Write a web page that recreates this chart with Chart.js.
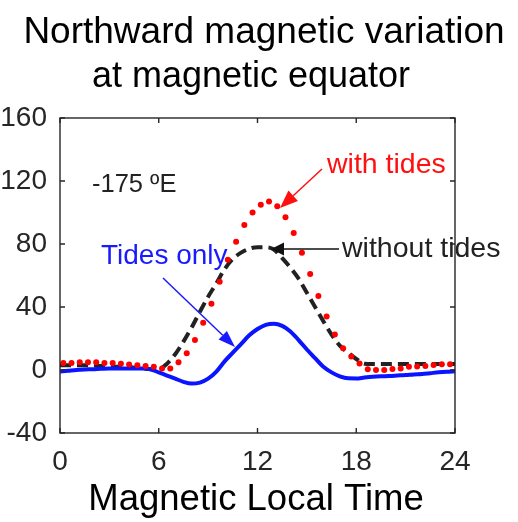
<!DOCTYPE html>
<html>
<head>
<meta charset="utf-8">
<script src="https://cdn.jsdelivr.net/npm/chart.js@4"></script>
<style>
  html, body { margin: 0; padding: 0; background: #fff; }
  canvas { display: block; }
</style>
</head>
<body>
<canvas id="chart" width="518" height="522"></canvas>
<script>
// hours for the red dotted series (with tides)
const hoursDots = [0.2, 0.7, 1.2, 1.7, 2.2, 2.7, 3.2, 3.7, 4.2, 4.7, 5.2, 5.7,
  6.2, 6.7, 7.2, 7.7, 8.2, 8.7, 9.2, 9.7, 10.2, 10.7, 11.2, 11.7,
  12.2, 12.7, 13.2, 13.7, 14.2, 14.7, 15.2, 15.7, 16.2, 16.7, 17.2, 17.7,
  18.2, 18.7, 19.2, 19.7, 20.2, 20.7, 21.2, 21.7, 22.2, 22.7, 23.2, 23.7];
const withTides = [4.5, 4.5, 5, 5, 5, 4.5, 4.5, 4, 3.5, 3, 2.5, 2,
  1, 1, 5, 10.6, 19, 30, 42, 56, 70, 81.5, 92, 100,
  105, 107, 104, 97, 87, 74.5, 61, 47, 34, 22.5, 13.8, 8.5,
  4.2, 0.5, 0, 0, 0.6, 1, 2, 2.3, 2.6, 3.2, 3.6, 3.6];

// half-hour grid for the two line series
const hours = [0, 0.5, 1, 1.5, 2, 2.5, 3, 3.5, 4, 4.5, 5, 5.5,
  6, 6.5, 7, 7.5, 8, 8.5, 9, 9.5, 10, 10.5, 11, 11.5,
  12, 12.5, 13, 13.5, 14, 14.5, 15, 15.5, 16, 16.5, 17, 17.5,
  18, 18.5, 19, 19.5, 20, 20.5, 21, 21.5, 22, 22.5, 23, 23.5, 24];
const withoutTides = [3, 3, 3, 3, 3, 2.5, 2.5, 2, 2, 1.5, 1, 0.5,
  0.5, 4, 10, 18, 27, 37, 46.5, 55, 64, 70.5, 74.5, 77,
  78, 78, 76.5, 71, 65, 58, 49, 40, 31, 22.5, 15.5, 11,
  7, 4, 3.8, 3.8, 3.8, 3.8, 3.8, 3.8, 3.8, 3.8, 3.8, 3.8, 3.8];
const tidesOnly = [-1, -0.5, 0, 0.3, 0.5, 0.8, 1, 1, 1, 1, 1, 0.5,
  -1.5, -3.5, -5.5, -7.5, -8.6, -8, -5.5, -1, 5.5, 11, 16.5, 22,
  26, 28.7, 29.4, 28, 24.5, 19, 13, 7.5, 2, -1.5, -4, -5.3,
  -5.4, -4.8, -4.3, -4, -3.8, -3.5, -3.2, -2.8, -2.5, -2, -1.5, -1.1, -0.8];

const xTicks = [0, 6, 12, 18, 24];
const yTicks = [-40, 0, 40, 80, 120, 160];

const FONT = '"Liberation Sans", Arial, Helvetica, sans-serif';
const AXIS = '#262626';

function pairs(xs, ys) {
  return xs.map((x, i) => ({ x: x, y: ys[i] }));
}

function arrow(ctx, x1, y1, x2, y2, color, headLen, headW, lineW) {
  const a = Math.atan2(y2 - y1, x2 - x1);
  const bx = x2 - headLen * Math.cos(a), by = y2 - headLen * Math.sin(a);
  ctx.save();
  ctx.strokeStyle = color;
  ctx.fillStyle = color;
  ctx.lineWidth = lineW;
  ctx.beginPath();
  ctx.moveTo(x1, y1);
  ctx.lineTo(bx, by);
  ctx.stroke();
  ctx.beginPath();
  ctx.moveTo(x2, y2);
  ctx.lineTo(bx + headW / 2 * Math.sin(a), by - headW / 2 * Math.cos(a));
  ctx.lineTo(bx - headW / 2 * Math.sin(a), by + headW / 2 * Math.cos(a));
  ctx.closePath();
  ctx.fill();
  ctx.restore();
}

const decorations = {
  id: 'decorations',
  afterDraw(chart) {
    const ctx = chart.ctx;
    const area = chart.chartArea;
    const xs = chart.scales.x, ys = chart.scales.y;

    // box + inward ticks on all four sides
    ctx.save();
    ctx.strokeStyle = AXIS;
    ctx.lineWidth = 1.4;
    ctx.strokeRect(area.left, area.top, area.right - area.left, area.bottom - area.top);
    ctx.beginPath();
    xTicks.forEach(v => {
      const px = xs.getPixelForValue(v);
      ctx.moveTo(px, area.bottom); ctx.lineTo(px, area.bottom - 5);
      ctx.moveTo(px, area.top); ctx.lineTo(px, area.top + 5);
    });
    yTicks.forEach(v => {
      const py = ys.getPixelForValue(v);
      ctx.moveTo(area.left, py); ctx.lineTo(area.left + 5, py);
      ctx.moveTo(area.right, py); ctx.lineTo(area.right - 5, py);
    });
    ctx.stroke();
    ctx.restore();

    // titles
    ctx.save();
    ctx.fillStyle = '#000';
    ctx.textBaseline = 'alphabetic';
    ctx.textAlign = 'center';
    ctx.font = '37px ' + FONT;
    ctx.fillText('Northward magnetic variation', 264, 43);
    ctx.font = '36px ' + FONT;
    ctx.fillText('at magnetic equator', 251, 87);
    ctx.font = '36.5px ' + FONT;
    ctx.fillText('Magnetic Local Time', 256, 510);

    // annotations
    ctx.textAlign = 'left';
    ctx.font = '25.5px ' + FONT;
    ctx.fillStyle = '#222';
    ctx.fillText('-175 \u00baE', 92, 192);
    ctx.font = '28.5px ' + FONT;
    ctx.fillStyle = '#ff1010';
    ctx.fillText('with tides', 327, 173);
    ctx.fillStyle = '#222';
    ctx.fillText('without tides', 342, 257);
    ctx.font = '28px ' + FONT;
    ctx.fillStyle = '#1a1aff';
    ctx.fillText('Tides only', 101, 264);
    ctx.restore();

    arrow(ctx, 322, 169, 280, 208, '#ff1010', 18, 14, 1.5);
    arrow(ctx, 339, 249, 271, 249, '#111', 13, 13, 1.5);
    arrow(ctx, 163, 278, 235, 347, '#1a1aff', 17, 12, 1.5);
  }
};

new Chart(document.getElementById('chart'), {
  type: 'line',
  data: {
    datasets: [
      {
        label: 'with tides',
        data: pairs(hoursDots, withTides),
        showLine: false,
        pointRadius: 3,
        pointBackgroundColor: '#ff0000',
        pointBorderWidth: 0,
        borderColor: '#ff0000'
      },
      {
        label: 'Tides only',
        data: pairs(hours, tidesOnly),
        borderColor: '#0a14ff',
        borderWidth: 4,
        pointRadius: 0,
        cubicInterpolationMode: 'monotone'
      },
      {
        label: 'without tides',
        data: pairs(hours, withoutTides),
        borderColor: '#222',
        borderWidth: 4,
        borderDash: [11, 6],
        pointRadius: 0,
        cubicInterpolationMode: 'monotone'
      }
    ]
  },
  options: {
    responsive: false,
    animation: false,
    layout: { padding: { top: 118, right: 63, left: 0, bottom: 0 } },
    plugins: { legend: { display: false }, tooltip: { enabled: false } },
    scales: {
      x: {
        type: 'linear',
        min: 0,
        max: 24,
        afterFit: s => { s.height = 89; },
        afterBuildTicks: s => { s.ticks = xTicks.map(v => ({ value: v })); },
        grid: { display: false, drawTicks: false },
        border: { display: false },
        ticks: { color: AXIS, padding: 12, font: { family: FONT, size: 28 } }
      },
      y: {
        min: -40,
        max: 160,
        afterFit: s => { s.width = 60; },
        afterBuildTicks: s => { s.ticks = yTicks.map(v => ({ value: v })); },
        grid: { display: false, drawTicks: false },
        border: { display: false },
        ticks: { color: AXIS, padding: 13, font: { family: FONT, size: 28 } }
      }
    }
  },
  plugins: [decorations]
});
</script>
</body>
</html>
